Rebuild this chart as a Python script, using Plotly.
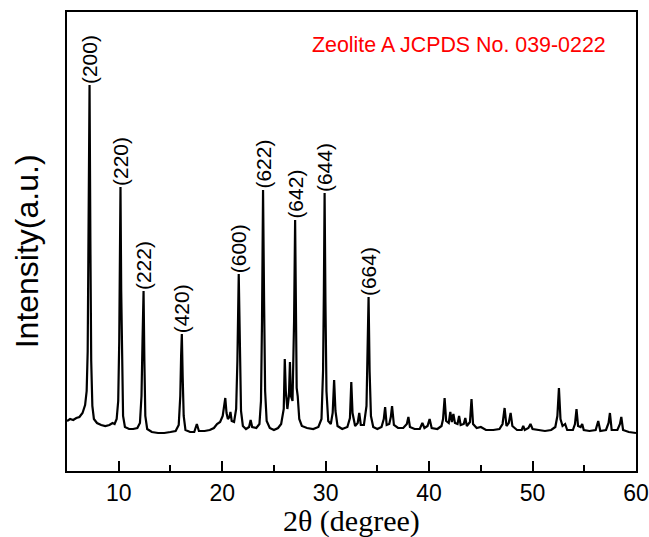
import plotly.graph_objects as go

# XRD pattern (2theta in degrees, intensity in arbitrary units)
two_theta = [
    5.0, 5.3, 5.6, 5.9, 6.2, 6.5, 6.75, 6.9, 7.0, 7.08, 7.18, 7.26, 7.34, 7.45, 7.6, 7.9,
    8.3, 8.7, 9.1, 9.4, 9.6, 9.8, 9.95, 10.05, 10.1, 10.17, 10.24, 10.32, 10.42, 10.6,
    11.0, 11.4, 11.8, 12.05, 12.2, 12.3, 12.4, 12.48, 12.57, 12.75, 13.2, 13.8, 14.4,
    15.0, 15.5, 15.8, 15.95, 16.03, 16.1, 16.18, 16.28, 16.45, 16.9, 17.3, 17.55, 17.75,
    18.3, 18.8, 19.2, 19.5, 19.8, 20.05, 20.2, 20.3, 20.42, 20.55, 20.7, 20.8, 20.92,
    21.15, 21.35, 21.47, 21.6, 21.7, 21.82, 22.0, 22.3, 22.6, 22.75, 22.9, 23.3, 23.6,
    23.75, 23.85, 23.95, 24.05, 24.15, 24.3, 24.6, 25.0, 25.4, 25.7, 25.95, 26.05, 26.15,
    26.3, 26.45, 26.55, 26.65, 26.8, 26.95, 27.05, 27.13, 27.2, 27.3, 27.45, 27.7, 28.2,
    28.8, 29.3, 29.6, 29.75, 29.83, 29.9, 29.98, 30.08, 30.25, 30.5, 30.68, 30.82, 30.95,
    31.15, 31.6, 32.1, 32.35, 32.48, 32.6, 32.85, 33.1, 33.25, 33.4, 33.7, 33.95, 34.05,
    34.15, 34.25, 34.38, 34.6, 35.0, 35.4, 35.62, 35.75, 35.9, 36.15, 36.3, 36.42, 36.6,
    37.0, 37.5, 37.85, 38.0, 38.15, 38.6, 39.1, 39.35, 39.55, 39.85, 40.05, 40.25, 40.8,
    41.2, 41.35, 41.5, 41.65, 41.9, 42.05, 42.2, 42.35, 42.5, 42.75, 42.9, 43.05, 43.35,
    43.5, 43.65, 43.95, 44.1, 44.25, 44.6, 45.0, 45.5, 46.2, 46.8, 47.1, 47.3, 47.48,
    47.7, 47.88, 48.05, 48.5, 48.95, 49.1, 49.25, 49.6, 49.8, 50.0, 50.6, 51.2, 51.8,
    52.2, 52.4, 52.55, 52.7, 52.9, 53.15, 53.35, 53.9, 54.1, 54.25, 54.4, 54.65, 54.8,
    54.95, 55.5, 56.1, 56.35, 56.55, 57.1, 57.35, 57.48, 57.65, 58.2, 58.45, 58.58, 58.75,
    59.3, 60.0,
]
intensity = [
    50, 52, 51, 53, 54, 58, 66, 80, 120, 210, 386, 230, 110, 65, 52, 48,
    46, 45, 46, 48, 47, 52, 70, 130, 200, 284, 180, 90, 55, 44,
    42, 42, 43, 48, 75, 130, 180, 110, 55, 42, 39, 38, 38,
    39, 40, 46, 75, 115, 137, 95, 55, 41, 39, 39, 47, 40,
    40, 41, 43, 47, 49, 55, 66, 73, 58, 52, 54, 59, 50,
    49, 62, 110, 197, 120, 60, 45, 42, 44, 51, 44, 43, 47,
    70, 150, 281, 170, 80, 50, 43, 41, 43, 47, 62, 112, 80,
    62, 75, 109, 75, 70, 150, 251, 120, 83, 75, 52, 45, 43,
    42, 44, 52, 100, 180, 278, 170, 80, 50, 47, 58, 91, 60,
    45, 42, 44, 53, 89, 58, 45, 48, 58, 46, 46, 65, 110,
    174, 100, 55, 44, 42, 44, 52, 64, 46, 47, 54, 65, 46,
    43, 43, 47, 54, 44, 42, 42, 48, 43, 45, 52, 43, 42,
    45, 52, 73, 50, 48, 59, 49, 57, 48, 47, 55, 46, 47,
    53, 45, 49, 72, 47, 43, 44, 41, 41, 42, 47, 63, 45,
    48, 58, 45, 41, 41, 45, 41, 43, 47, 42, 41, 40, 41,
    44, 55, 83, 52, 45, 47, 41, 41, 47, 62, 45, 44, 47,
    41, 40, 41, 50, 40, 41, 48, 58, 41, 41, 47, 54, 41,
    39, 38,
]

# Miller indices of the labelled reflections and their 2theta positions
hkl_labels = ["(200)", "(220)", "(222)", "(420)", "(600)", "(622)", "(642)", "(644)", "(664)"]
hkl_positions = [7.18, 10.17, 12.4, 16.1, 21.6, 23.95, 27.05, 29.9, 34.15]

x_ticks = [10, 20, 30, 40, 50, 60]
x_minor_ticks = [15, 25, 35, 45, 55]

fig = go.Figure()
fig.add_trace(go.Scatter(
    x=two_theta, y=intensity, mode="lines",
    line=dict(color="black", width=2.2), showlegend=False, hoverinfo="skip",
))

annotations = []
for lab, pos in zip(hkl_labels, hkl_positions):
    # label sits on top of the peak: look up the peak height from the data
    peak = max(v for t, v in zip(two_theta, intensity) if abs(t - pos) < 0.2)
    annotations.append(dict(
        x=pos, y=peak, xref="x", yref="y", text=lab, showarrow=False,
        textangle=-90, xanchor="center", yanchor="bottom", borderpad=0,
        font=dict(family="Liberation Sans, Arial", size=21, color="black"),
    ))

annotations.append(dict(
    x=0.951, y=0.928, xref="paper", yref="paper", text="Zeolite A JCPDS No. 039-0222",
    showarrow=False, xanchor="right", yanchor="middle",
    font=dict(family="Liberation Sans, Arial", size=21.4, color="red"),
))
annotations.append(dict(
    x=-0.07, y=0.479, xref="paper", yref="paper", text="Intensity(a.u.)",
    showarrow=False, textangle=-90, xanchor="center", yanchor="middle",
    font=dict(family="Liberation Sans, Arial", size=32, color="black"),
))
annotations.append(dict(
    x=0.5, y=-0.109, xref="paper", yref="paper", text="2θ (degree)",
    showarrow=False, xanchor="center", yanchor="middle", borderpad=0,
    font=dict(family="Liberation Serif, Times New Roman", size=30, color="black"),
))

fig.update_layout(
    width=649, height=537,
    margin=dict(l=67, r=13, t=12, b=66, autoexpand=False),
    paper_bgcolor="white", plot_bgcolor="white",
    annotations=annotations,
    xaxis=dict(
        range=[5, 60], tickmode="array", tickvals=x_ticks,
        ticktext=[str(t) for t in x_ticks], automargin=False,
        ticks="inside", ticklen=10, tickwidth=2, tickcolor="black",
        minor=dict(tickmode="array", tickvals=x_minor_ticks, ticks="inside",
                   ticklen=6, tickwidth=2, tickcolor="black"),
        showline=True, mirror=True, linecolor="black", linewidth=2,
        showgrid=False, zeroline=False,
        tickfont=dict(family="Liberation Sans, Arial", size=23, color="black"),
    ),
    yaxis=dict(
        range=[0, 459], showticklabels=False, ticks="", automargin=False,
        showline=True, mirror=True, linecolor="black", linewidth=2,
        showgrid=False, zeroline=False,
    ),
)

fig.write_html("out.html")
